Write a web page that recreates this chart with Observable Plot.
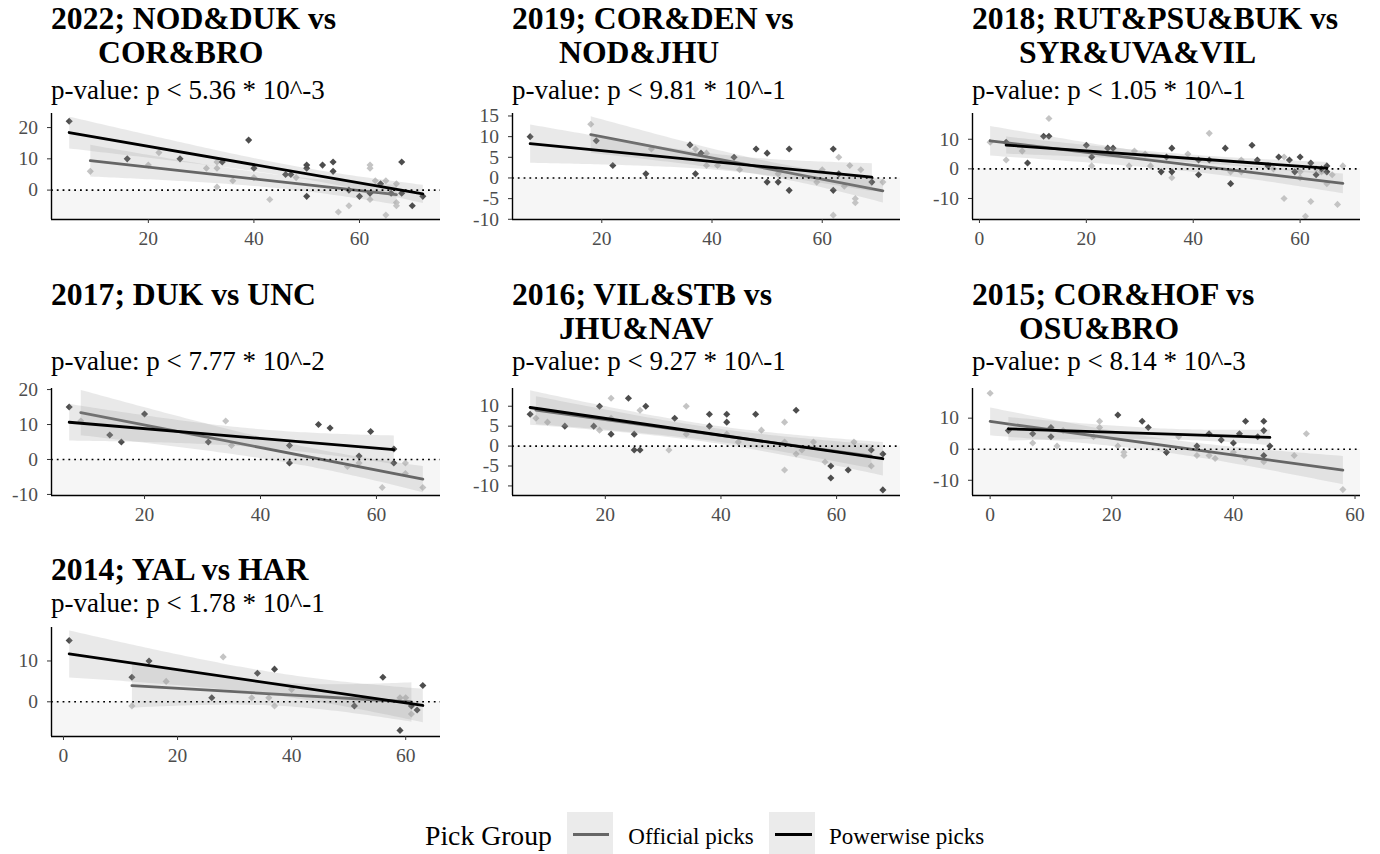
<!DOCTYPE html>
<html><head><meta charset="utf-8">
<script src="https://cdn.jsdelivr.net/npm/d3@7"></script>
<script src="https://cdn.jsdelivr.net/npm/@observablehq/plot@0.6"></script>
<style>
body{margin:0;background:#fff;}
#root{position:relative;width:1380px;height:854px;overflow:hidden;font-family:"Liberation Serif","Times New Roman",serif;color:#000;}
.t{position:absolute;font-weight:bold;font-size:31.7px;line-height:34px;white-space:pre;}
.s{position:absolute;font-size:27px;line-height:30px;white-space:pre;}
.pn{position:absolute;}
.lg{position:absolute;white-space:pre;}
.key{position:absolute;background:#ebebeb;}
.kl{position:absolute;}
</style></head><body><div id="root"></div><script>
// ---------- data ----------
const titleLine1 = ["2022; NOD&DUK vs", "2019; COR&DEN vs", "2018; RUT&PSU&BUK vs", "2017; DUK vs UNC", "2016; VIL&STB vs", "2015; COR&HOF vs", "2014; YAL vs HAR"];
const titleLine2 = ["COR&BRO", "NOD&JHU", "SYR&UVA&VIL", "", "JHU&NAV", "OSU&BRO", ""];
const pValues = ["5.36 * 10^-3", "9.81 * 10^-1", "1.05 * 10^-1", "7.77 * 10^-2", "9.27 * 10^-1", "8.14 * 10^-3", "1.78 * 10^-1"];
const groups = ["Official picks", "Powerwise picks"];

const official2022 = [[9,6],[20,8],[22,12],[31,7],[33,9],[33,7],[33,1],[36,3],[40,4],[43,-3],[48,4],[56,-7],[58,-5],[62,8],[62,7],[62,-3],[63,3],[65,3],[65,-8],[67,2],[67,-4],[67,-5]];
const powerwise2022 = [[5,22],[16,10],[26,10],[34,9],[39,16],[40,7],[46,5],[47,5],[50,8],[50,7],[50,-2],[53,8],[55,9],[55,6],[58,0],[60,-2],[62,-1],[64,2],[66,-1],[68,9],[68,-1],[70,-5],[72,-2]];
const official2019 = [[18,13],[29,7],[37,7],[39,6],[39,3],[41,3],[45,2],[52,1],[59,-1],[60,2],[62,-9],[63,5],[64,-2],[65,3],[66,-5],[66,-6],[67,2],[71,-1]];
const powerwise2019 = [[7,10],[19,9],[22,3],[28,1],[36,8],[37,1],[38,6],[44,5],[48,7],[50,6],[50,-1],[52,-1],[54,7],[54,-3],[62,7],[62,-3],[63,1],[69,-1]];
const official2018 = [[2,9],[5,3],[8,6],[13,17],[21,1],[28,1],[29,6],[31,5],[32,1],[36,-3],[39,5],[43,12],[47,-1],[49,3],[49,-1],[55,0],[57,4],[57,-10],[60,-1],[60,-3],[61,-16],[62,-11],[63,0],[64,-1],[65,-5],[66,-2],[67,-12],[68,1]];
const powerwise2018 = [[5,9],[9,2],[12,11],[13,11],[20,8],[21,4],[24,7],[25,7],[34,-1],[35,4],[36,7],[36,-1],[41,3],[41,-2],[43,3],[46,7],[47,-5],[51,8],[52,3],[54,1],[56,4],[58,3],[59,-1],[60,4],[62,2],[63,-2],[64,0],[65,1],[65,-1]];
const official2017 = [[9,11],[34,11],[35,4],[55,-2],[57,-1],[61,-8],[65,-1],[65,-4],[68,-8]];
const powerwise2017 = [[7,15],[14,7],[16,5],[20,13],[31,5],[45,4],[45,-1],[50,10],[52,9],[57,1],[59,8],[63,3],[63,-1]];
const official2016 = [[8,7],[10,6],[19,4],[21,12],[21,7],[26,9],[31,-1],[34,10],[34,3],[41,3],[43,1],[47,4],[51,6],[51,1],[51,-6],[53,-2],[54,-1],[56,1],[58,-4],[63,1],[66,-5]];
const powerwise2016 = [[7,8],[13,5],[18,5],[19,10],[21,3],[24,12],[25,3],[25,-1],[26,-1],[27,10],[32,7],[38,8],[38,5],[41,8],[41,6],[46,8],[53,9],[59,-5],[59,-8],[62,-6],[66,-1],[68,-2],[68,-11]];
const official2015 = [[0,18],[7,2],[11,1],[12,6],[17,4],[18,9],[18,7],[21,1],[22,-1],[22,-2],[31,4],[34,-2],[36,-2],[37,-3],[40,-1],[42,-3],[45,-4],[50,-2],[52,5],[58,-13]];
const powerwise2015 = [[3,6],[7,5],[10,7],[10,4],[21,11],[25,9],[26,7],[29,-1],[34,1],[36,5],[38,3],[40,2],[41,5],[42,9],[44,4],[45,9],[45,6],[45,-2],[46,1]];
const official2014 = [[12,-1],[18,5],[28,11],[33,1],[36,1],[37,-1],[40,3],[59,1],[60,1],[61,-3]];
const powerwise2014 = [[1,15],[12,6],[15,10],[26,1],[34,7],[37,8],[51,-1],[56,6],[59,-7],[61,-1],[62,-2],[63,4]];

const officialSets = [official2022, official2019, official2018, official2017, official2016, official2015, official2014];
const powerwiseSets = [powerwise2022, powerwise2019, powerwise2018, powerwise2017, powerwise2016, powerwise2015, powerwise2014];

const yTicks = [[0,10,20],[-10,-5,0,5,10,15],[-10,0,10],[-10,0,10,20],[-10,-5,0,5,10],[-10,0,10],[0,10]];
const xTicks = [[20,40,60],[20,40,60],[0,20,40,60],[20,40,60],[20,40,60],[0,20,40,60],[0,20,40,60]];
const yDomains = [[-9.4,24.5],[-10.05,15.6],[-17.1,18.7],[-10.3,20.3],[-12.4,14.45],[-14.9,19.55],[-8.5,18.2]];

// ---------- layout ----------
const colLeft = [51, 512, 972];
const colWidth = [389, 388, 388];
const rowTop = [113, 388, 627];
const rowHeight = [106, 107, 109];
const titleTop = [1.6, 278.3, 553];
const subTop = [75.2, 345.9, 587.6];
const ML = 50, MR = 14, MT = 10, MB = 40;

const root = document.getElementById("root");
function addDiv(cls, text, left, top, extra) {
  const d = document.createElement("div");
  d.className = cls; d.textContent = text;
  d.style.left = left + "px"; d.style.top = top + "px";
  if (extra) Object.assign(d.style, extra);
  root.appendChild(d); return d;
}

for (let i = 0; i < 7; i++) {
  const c = i % 3, r = Math.floor(i / 3);
  const left = colLeft[c];
  addDiv("t", titleLine1[i], left, titleTop[r]);
  if (titleLine2[i]) addDiv("t", titleLine2[i], left + 47, titleTop[r] + 34);
  addDiv("s", "p-value: p < " + pValues[i], left, subTop[r]);

  const off = officialSets[i].map(([x, y]) => ({x, y, g: groups[0]}));
  const pw = powerwiseSets[i].map(([x, y]) => ({x, y, g: groups[1]}));
  const all = off.concat(pw);
  const [x0, x1] = d3.extent(all, d => d.x);
  const pad = (x1 - x0) * 0.05;
  const xd = [x0 - pad, x1 + pad];
  const yd = yDomains[i];
  const W = ML + colWidth[c] + MR, H = MT + rowHeight[r] + MB;
  const fmt = d => String(d);
  const chart = Plot.plot({
    width: W, height: H, marginLeft: ML, marginRight: MR, marginTop: MT, marginBottom: MB,
    x: {domain: xd, label: null},
    y: {domain: yd, label: null},
    style: {fontFamily: "'Liberation Serif', 'Times New Roman', serif", background: "transparent", overflow: "visible"},
    marks: [
      Plot.rect([0], {x1: xd[0], x2: xd[1], y1: yd[0], y2: 0, fill: "#f6f6f6"}),
      Plot.dot(off, {x: "x", y: "y", symbol: "diamond2", r: 3.2, fill: "#c4c4c4"}),
      Plot.dot(pw, {x: "x", y: "y", symbol: "diamond2", r: 3.2, fill: "#4d4d4d"}),
      Plot.linearRegressionY(off, {x: "x", y: "y", stroke: "#666666", strokeWidth: 2.8, fill: "#999999", fillOpacity: 0.22}),
      Plot.linearRegressionY(pw, {x: "x", y: "y", stroke: "#000000", strokeWidth: 2.8, fill: "#999999", fillOpacity: 0.22}),
      Plot.ruleY([0], {stroke: "#000", strokeWidth: 1.6, strokeDasharray: "1.8,4"}),
      Plot.ruleX([xd[0]], {stroke: "#000", strokeWidth: 1.4}),
      Plot.ruleY([yd[0]], {stroke: "#000", strokeWidth: 1.4}),
      Plot.axisX({ticks: xTicks[i], tickFormat: fmt, tickSize: 4, tickPadding: 8, fontSize: 19.5, stroke: "#333", fill: "#4d4d4d", label: null}),
      Plot.axisY({ticks: yTicks[i], tickFormat: fmt, tickSize: 4, tickPadding: 9.5, fontSize: 19.5, stroke: "#333", fill: "#4d4d4d", label: null})
    ]
  });
  chart.classList.add("pn");
  chart.style.left = (left - ML) + "px";
  chart.style.top = (rowTop[r] - MT) + "px";
  root.appendChild(chart);
}

// ---------- legend ----------
addDiv("lg", "Pick Group", 425, 819.6, {fontSize: "27.7px", lineHeight: "32px"});
const keyLeft = [566.7, 769.3];
const keyColor = ["#666666", "#000000"];
const labelLeft = [628.3, 829];
groups.forEach((g, k) => {
  addDiv("key", "", keyLeft[k], 812, {width: "46px", height: "46px"});
  addDiv("kl", "", keyLeft[k] + 6, 832.6, {width: "36.6px", height: "3.3px", background: keyColor[k]});
  addDiv("lg", g, labelLeft[k], 822.5, {fontSize: "23px", lineHeight: "28px"});
});
</script></body></html>
